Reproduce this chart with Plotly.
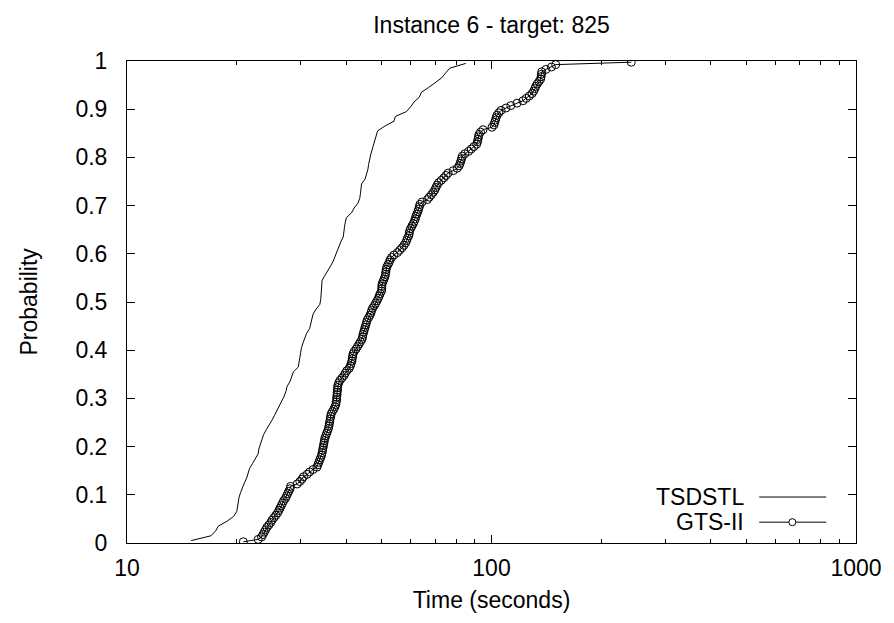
import plotly.graph_objects as go

# ---- data (sorted run times in seconds) ----
tsdstl_time = [
    15.0, 17.0, 17.5, 17.8, 18.8, 19.6, 20.0, 20.1, 20.2, 20.3,
    20.5, 20.8, 21.0, 21.3, 21.5, 21.7, 22.1, 22.5, 22.9, 23.0,
    23.2, 23.4, 23.7, 24.1, 24.6, 25.0, 25.4, 25.8, 26.2, 26.7,
    27.0, 27.3, 27.5, 28.0, 28.3, 28.6, 29.5, 29.7, 29.8, 29.95,
    30.1, 30.4, 30.8, 31.1, 31.7, 31.9, 32.2, 32.4, 33.0, 33.8,
    34.0, 34.1, 34.2, 34.25, 34.3, 34.9, 35.6, 36.2, 36.8, 37.2,
    37.6, 38.0, 38.6, 39.2, 39.3, 39.5, 39.7, 40.0, 41.3, 42.0,
    43.0, 43.5, 43.7, 43.9, 44.0, 45.0, 45.5, 45.8, 46.0, 46.2,
    46.6, 47.0, 47.4, 47.8, 48.3, 48.7, 51.0, 54.0, 54.5, 58.4,
    60.0, 61.3, 63.4, 64.2, 67.2, 70.3, 73.0, 74.8, 76.8, 85.0,
]

gts_time = [
    20.85, 22.9, 23.4, 23.6, 23.8, 24.0, 24.2, 24.5, 24.8, 25.0,
    25.3, 25.6, 25.9, 26.1, 26.3, 26.5, 26.7, 26.9, 27.2, 27.4,
    27.6, 27.8, 28.0, 28.1, 29.3, 29.8, 30.2, 30.5, 31.2, 31.7,
    32.4, 33.2, 33.4, 33.6, 33.8, 34.0, 34.2, 34.3, 34.4, 34.5,
    34.6, 34.7, 34.8, 34.9, 35.1, 35.3, 35.5, 35.7, 35.8, 35.9,
    36.0, 36.1, 36.2, 36.3, 36.6, 36.9, 37.2, 37.4, 37.5, 37.6,
    37.6, 37.7, 37.7, 37.8, 37.8, 37.9, 38.1, 38.4, 38.9, 39.4,
    39.7, 40.1, 40.7, 41.0, 41.2, 41.4, 41.5, 41.6, 41.7, 42.0,
    42.5, 42.9, 43.3, 43.7, 44.1, 44.3, 44.4, 44.6, 44.8, 45.0,
    45.2, 45.4, 45.6, 46.0, 46.4, 46.7, 46.9, 47.2, 47.7, 48.1,
    48.5, 48.9, 49.2, 49.5, 49.9, 50.0, 50.0, 50.1, 50.4, 50.7,
    51.0, 51.2, 51.3, 51.4, 51.6, 52.0, 52.4, 52.7, 53.2, 54.0,
    55.2, 56.0, 56.8, 57.5, 58.1, 58.5, 58.8, 59.3, 59.5, 59.6,
    60.0, 60.5, 61.0, 61.4, 61.8, 62.0, 62.4, 62.8, 63.1, 63.4,
    63.6, 64.5, 66.7, 67.5, 68.4, 69.2, 69.9, 70.4, 70.9, 71.6,
    72.8, 74.0, 75.0, 76.0, 78.5, 80.5, 81.5, 82.0, 82.4, 82.8,
    83.1, 84.5, 86.5, 88.0, 89.5, 91.1, 91.5, 91.8, 92.1, 92.4,
    93.3, 94.8, 100.3, 101.6, 102.0, 102.5, 103.0, 103.5, 104.8, 106.2,
    109.6, 113.0, 117.5, 122.0, 124.5, 127.0, 129.2, 130.5, 131.5, 132.3,
    133.5, 135.0, 136.4, 136.8, 137.1, 137.3, 141.0, 146.0, 150.0, 241.8,
]

# empirical cumulative probability (plotting position (i - 0.5) / n)
tsdstl_prob = [(i + 0.5) / len(tsdstl_time) for i in range(len(tsdstl_time))]
gts_prob = [(i + 0.5) / len(gts_time) for i in range(len(gts_time))]

series_names = ["TSDSTL", "GTS-II"]
x_major_ticks = [10, 100, 1000]
x_major_labels = ["10", "100", "1000"]
x_minor_ticks = [20, 30, 40, 50, 60, 70, 80, 90, 200, 300, 400, 500, 600, 700, 800, 900]
y_ticks = [0, 0.1, 0.2, 0.3, 0.4, 0.5, 0.6, 0.7, 0.8, 0.9, 1]
y_labels = ["0", "0.1", "0.2", "0.3", "0.4", "0.5", "0.6", "0.7", "0.8", "0.9", "1"]

FONT = "Liberation Sans, Arial, Helvetica, sans-serif"
FS = 23
W, H = 886, 615  # page body has an 8px margin inside the 894x623 window

fig = go.Figure()
fig.add_trace(go.Scatter(
    x=tsdstl_time, y=tsdstl_prob, mode="lines", name=series_names[0],
    line=dict(color="black", width=1), showlegend=False,
))
fig.add_trace(go.Scatter(
    x=gts_time, y=gts_prob, mode="lines+markers", name=series_names[1],
    line=dict(color="black", width=1),
    marker=dict(symbol="circle-open", size=8, color="black", line=dict(width=1)),
    showlegend=False,
))

fig.update_layout(
    width=W, height=H,
    margin=dict(l=119, r=34, t=53, b=80, pad=0),
    paper_bgcolor="white", plot_bgcolor="white",
    font=dict(family=FONT, size=FS, color="black"),
    title=dict(text="Instance 6 - target: 825", x=0.5, xref="paper",
               y=1 - 17 / H, yref="container", yanchor="middle", xanchor="center",
               font=dict(family=FONT, size=FS, color="black")),
    xaxis=dict(
        type="log", range=[1, 3],
        tickvals=x_major_ticks, ticktext=x_major_labels,
        ticks="inside", ticklen=8, tickwidth=1, tickcolor="black",
        minor=dict(tickvals=x_minor_ticks, ticks="inside", ticklen=4,
                   tickwidth=1, tickcolor="black", showgrid=False),
        mirror="allticks", showline=True, linecolor="black", linewidth=1,
        showgrid=False, zeroline=False,
        ticklabelstandoff=4,
        title=dict(text="Time (seconds)", standoff=12,
                   font=dict(family=FONT, size=FS)),
        tickfont=dict(family=FONT, size=FS),
    ),
    yaxis=dict(
        range=[0, 1], tickvals=y_ticks, ticktext=y_labels,
        ticks="inside", ticklen=8, tickwidth=1, tickcolor="black",
        mirror="allticks", showline=True, linecolor="black", linewidth=1,
        showgrid=False, zeroline=False,
        ticklabelstandoff=14,
        tickfont=dict(family=FONT, size=FS),
    ),
)

# y-axis title placed gnuplot-style, well left of the tick labels
fig.add_annotation(text="Probability", xref="paper", yref="paper",
                   x=-99 / 733, y=0.5, xanchor="center", yanchor="middle",
                   textangle=-90, showarrow=False,
                   font=dict(family=FONT, size=FS, color="black"))

# legend drawn gnuplot-style: right-aligned text, sample to its right
leg_y = [0.0954, 0.0432]
for name, yy in zip(series_names, leg_y):
    fig.add_annotation(text=name, xref="paper", yref="paper", x=0.8486, y=yy,
                       xanchor="right", yanchor="middle", showarrow=False,
                       font=dict(family=FONT, size=FS, color="black"))
    fig.add_shape(type="line", xref="paper", yref="paper",
                  x0=0.8673, x1=0.9591, y0=yy, y1=yy,
                  line=dict(color="black", width=1))
fig.add_shape(type="circle", xref="paper", yref="paper",
              x0=0.9127 - 0.0048, x1=0.9127 + 0.0048,
              y0=leg_y[1] - 0.0073, y1=leg_y[1] + 0.0073,
              line=dict(color="black", width=1), fillcolor="white")

fig.write_html("out.html")
